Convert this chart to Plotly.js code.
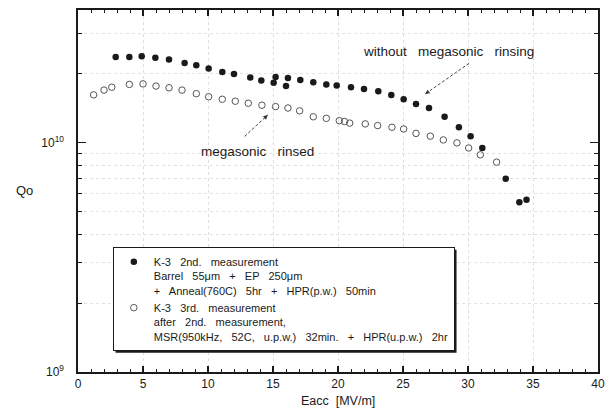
<!DOCTYPE html>
<html>
<head>
<meta charset="utf-8">
<script src="https://cdn.plot.ly/plotly-3.0.1.min.js"></script>
<style>html,body{margin:0;padding:0;background:#fff;}#chart{width:610px;height:413px;}</style>
</head>
<body>
<div id="chart"></div>
<script>
// K-3 2nd measurement (filled)
var eacc2nd = [2.9, 3.95, 4.9, 5.95, 7.0, 8.2, 9.1, 10.05, 11.1, 12.0, 13.25, 14.1, 15.05, 15.2, 16.0, 16.15, 17.1, 18.1, 19.1, 19.9, 21.0, 22.0, 23.1, 24.1, 25.05, 26.0, 27.0, 28.2, 29.3, 30.2, 31.1, 32.9, 33.95, 34.5];
var q2nd = [2.37e10, 2.37e10, 2.39e10, 2.35e10, 2.31e10, 2.23e10, 2.18e10, 2.11e10, 2.04e10, 2.0e10, 1.93e10, 1.87e10, 1.83e10, 1.94e10, 1.77e10, 1.92e10, 1.88e10, 1.84e10, 1.80e10, 1.78e10, 1.75e10, 1.72e10, 1.68e10, 1.62e10, 1.55e10, 1.48e10, 1.42e10, 1.30e10, 1.17e10, 1.07e10, 9.5e9, 6.97e9, 5.5e9, 5.65e9];
// K-3 3rd measurement (open)
var eacc3rd = [1.2, 2.0, 2.6, 3.95, 5.0, 6.0, 7.0, 8.0, 9.1, 10.05, 11.1, 12.1, 13.1, 14.15, 15.2, 16.15, 17.05, 18.1, 19.1, 20.1, 20.5, 20.9, 22.1, 23.05, 24.15, 25.05, 26.0, 27.1, 28.1, 29.15, 30.05, 30.95, 32.2];
var q3rd = [1.62e10, 1.70e10, 1.75e10, 1.80e10, 1.81e10, 1.77e10, 1.74e10, 1.70e10, 1.64e10, 1.59e10, 1.55e10, 1.52e10, 1.49e10, 1.46e10, 1.44e10, 1.42e10, 1.38e10, 1.30e10, 1.28e10, 1.25e10, 1.24e10, 1.22e10, 1.21e10, 1.19e10, 1.17e10, 1.15e10, 1.10e10, 1.07e10, 1.03e10, 1.00e10, 9.5e9, 8.87e9, 8.24e9];

var name2nd = "K-3   2nd.   measurement<br>Barrel   55\u03bcm   +   EP   250\u03bcm<br>+   Anneal(760C)   5hr   +   HPR(p.w.)   50min";
var name3rd = "K-3   3rd.   measurement<br>after   2nd.   measurement,<br>MSR(950kHz,   52C,   u.p.w.)   32min.   +   HPR(u.p.w.)   2hr";

var xTickVals = [0, 5, 10, 15, 20, 25, 30, 35, 40];
var xTickText = ["0", "5", "10", "15", "20", "25", "30", "35", "40"];
var yTickVals = [1e9, 1e10];
var yTickText = ["10<sup>9</sup>", "10<sup>10</sup>"];
var yMinorVals = [2e9, 3e9, 4e9, 5e9, 6e9, 7e9, 8e9, 9e9, 2e10, 3e10];

var font = "Liberation Sans, Arial, Helvetica, sans-serif";
var ink = "#1a1a1a";

var traces = [
  {x: eacc2nd, y: q2nd, mode: "markers", type: "scatter", name: name2nd,
   marker: {symbol: "circle", size: 6.5, color: ink, line: {width: 0}}},
  {x: eacc3rd, y: q3rd, mode: "markers", type: "scatter", name: name3rd,
   marker: {symbol: "circle-open", size: 6.5, color: "#555", line: {width: 1, color: "#555"}}}
];

var ML = 78, MR = 12, MT = 10, MB = 41, W = 610, H = 413;

var layout = {
  width: W, height: H,
  margin: {l: ML, r: MR, t: MT, b: MB},
  paper_bgcolor: "#fff", plot_bgcolor: "#fff",
  font: {family: font, color: ink, size: 12},
  showlegend: true,
  legend: {x: 0.067, y: 0.345, xanchor: "left", yanchor: "top",
           bgcolor: "#fff", bordercolor: ink, borderwidth: 1,
           font: {family: font, size: 11, color: ink}, valign: "top",
           tracegroupgap: 0},
  xaxis: {range: [0, 40], tickmode: "array", tickvals: xTickVals, ticktext: xTickText,
          ticks: "inside", ticklen: 6, tickwidth: 1.2, tickcolor: ink,
          showline: true, linecolor: ink, linewidth: 1.6, mirror: "allticks",
          showgrid: true, gridcolor: "#dedede", griddash: "dot", gridwidth: 1,
          zeroline: false, tickfont: {size: 12, family: font, color: ink},
          minor: {dtick: 1, tick0: 0, ticks: "inside", ticklen: 3, tickcolor: ink, tickwidth: 1, showgrid: false}},
  yaxis: {type: "log", range: [9, 10.58], tickmode: "array", tickvals: yTickVals, ticktext: yTickText,
          ticks: "inside", ticklen: 8, tickwidth: 1.2, tickcolor: ink,
          showline: true, linecolor: ink, linewidth: 1.6, mirror: "allticks",
          showgrid: false, zeroline: false, ticklabelstandoff: 10,
          tickfont: {size: 12, family: font, color: ink},
          minor: {tickmode: "array", tickvals: yMinorVals, ticks: "inside", ticklen: 4, tickcolor: ink, tickwidth: 1,
                  showgrid: true, gridcolor: "#e2e2e2", griddash: "dot", gridwidth: 1}},
  annotations: [
    {xref: "paper", yref: "paper", x: -0.102, y: 0.502, text: "Qo", showarrow: false,
     font: {size: 13, family: font, color: ink}, xanchor: "center", yanchor: "middle"},
    {xref: "paper", yref: "paper", x: 0.5, y: -0.08, text: "Eacc  [MV/m]", showarrow: false,
     font: {size: 12.5, family: font, color: ink}, xanchor: "center", yanchor: "middle"},
    {xref: "x", yref: "y", x: 28.5, y: 10.4, text: "without   megasonic   rinsing", showarrow: false,
     font: {size: 13.5, family: font, color: ink}},
    {xref: "x", yref: "y", x: 26.7, y: 10.213, ax: 30.2, ay: 10.352, axref: "x", ayref: "y",
     text: "", showarrow: true, arrowhead: 2, arrowsize: 1, arrowwidth: 0.9, arrowcolor: "#333", standoff: 0},
    {xref: "x", yref: "y", x: 13.8, y: 9.961, text: "megasonic   rinsed", showarrow: false,
     font: {size: 13.5, family: font, color: ink}},
    {xref: "x", yref: "y", x: 14.6, y: 10.122, ax: 12.7, ay: 10.022, axref: "x", ayref: "y",
     text: "", showarrow: true, arrowhead: 2, arrowsize: 1, arrowwidth: 0.9, arrowcolor: "#333", standoff: 0}
  ]
};

function dashArrows() {
  gd.querySelectorAll(".annotation-arrow-g").forEach(function (g) {
    var p = g.querySelector("path");
    if (p) p.style.strokeDasharray = "3,2";
  });
}

var gd = document.getElementById("chart");
Plotly.newPlot(gd, traces, layout, {staticPlot: true, displayModeBar: false}).then(function () {
  dashArrows();
  // drop shadow behind the legend box
  var bg = gd.querySelector(".legend .bg");
  if (bg) {
    var r = bg.getBoundingClientRect();
    var c = gd.getBoundingClientRect();
    var pw = W - ML - MR, ph = H - MT - MB;
    var L = r.left - c.left, T = r.top - c.top, R = r.right - c.left, B = r.bottom - c.top;
    var off = 2.2;
    var toX = function (px) { return (px - ML) / pw; };
    var toY = function (py) { return (H - MB - py) / ph; };
    Plotly.relayout(gd, {shapes: [{type: "rect", xref: "paper", yref: "paper", layer: "above",
      x0: toX(L + off), x1: toX(R + off), y0: toY(B + off), y1: toY(T + off),
      fillcolor: ink, line: {width: 0}}]}).then(dashArrows);
  }
});
</script>
</body>
</html>
